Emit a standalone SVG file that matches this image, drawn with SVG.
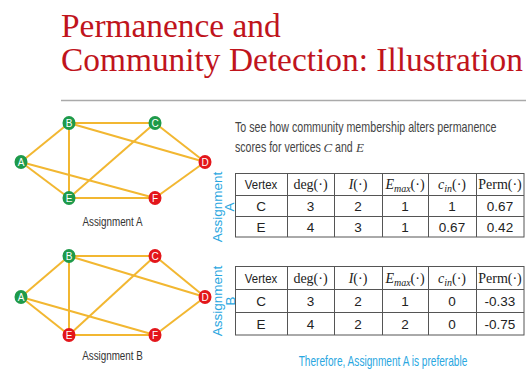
<svg xmlns="http://www.w3.org/2000/svg" width="526" height="372" viewBox="0 0 526 372">
  <style>
    .title { font-family: "Liberation Serif", "Times New Roman", serif; font-size: 33.4px; fill: #C0141C; }
    .edge { stroke: #F2B731; stroke-width: 2; fill: none; }
    .green { fill: #1E9A4A; }
    .red { fill: #E3161B; }
    .nlabel { font-family: "Liberation Sans", Arial, sans-serif; font-size: 10px; fill: #ffffff; text-anchor: middle; }
    .caption { font-family: "Liberation Sans", Arial, sans-serif; font-size: 13.5px; fill: #333333; text-anchor: middle; }
    .body { font-family: "Liberation Sans", Arial, sans-serif; font-size: 14px; fill: #444444; }
    .it { font-family: "Liberation Serif", "Times New Roman", serif; font-style: italic; font-size: 13px; fill: #444444; }
    .blue { font-family: "Liberation Sans", Arial, sans-serif; font-size: 14px; fill: #2AA7DF; }
    .side { font-family: "Liberation Sans", Arial, sans-serif; font-size: 13.5px; fill: #2AA7DF; text-anchor: middle; }
    .cell { font-family: "Liberation Sans", Arial, sans-serif; font-size: 13.5px; fill: #222222; text-anchor: middle; }
    .math { font-family: "Liberation Serif", "Times New Roman", serif; font-size: 14px; fill: #222222; text-anchor: middle; }
    .grid { stroke: #555555; stroke-width: 1; fill: none; }
  </style>

  <!-- heading -->
  <text class="title" x="61" y="37">Permanence and</text>
  <text class="title" x="61" y="71">Community Detection: Illustration</text>
  <line x1="61" y1="100.5" x2="526" y2="100.5" stroke="#AAAAAA" stroke-width="1.5"/>

  <!-- connectors of both graphs -->
  <g id="connectors">
    <g id="edges-a">
      <line class="edge" x1="21" y1="162" x2="69" y2="123"/>
      <line class="edge" x1="21" y1="162" x2="69" y2="198"/>
      <line class="edge" x1="21" y1="162" x2="155" y2="198"/>
      <line class="edge" x1="69" y1="123" x2="155" y2="123"/>
      <line class="edge" x1="69" y1="123" x2="69" y2="198"/>
      <line class="edge" x1="69" y1="123" x2="205" y2="162"/>
      <line class="edge" x1="155" y1="123" x2="69" y2="198"/>
      <line class="edge" x1="155" y1="123" x2="205" y2="162"/>
      <line class="edge" x1="205" y1="162" x2="155" y2="198"/>
      <line class="edge" x1="69" y1="198" x2="155" y2="198"/>
    </g>
    <g id="edges-b">
      <line class="edge" x1="21" y1="297" x2="69" y2="256"/>
      <line class="edge" x1="21" y1="297" x2="69" y2="335"/>
      <line class="edge" x1="21" y1="297" x2="155" y2="335"/>
      <line class="edge" x1="69" y1="256" x2="155" y2="256"/>
      <line class="edge" x1="69" y1="256" x2="69" y2="335"/>
      <line class="edge" x1="69" y1="256" x2="205" y2="297"/>
      <line class="edge" x1="155" y1="256" x2="69" y2="335"/>
      <line class="edge" x1="155" y1="256" x2="205" y2="297"/>
      <line class="edge" x1="205" y1="297" x2="155" y2="335"/>
      <line class="edge" x1="69" y1="335" x2="155" y2="335"/>
    </g>
  </g>

  <!-- graph under assignment A -->
  <g id="nodeA-A"><ellipse class="green" cx="21" cy="162" rx="6.5" ry="7"/><text class="nlabel" x="21" y="165.6">A</text></g>
  <g id="nodeA-B"><ellipse class="green" cx="69" cy="123" rx="6.5" ry="7"/><text class="nlabel" x="69" y="126.6">B</text></g>
  <g id="nodeA-C"><ellipse class="green" cx="155" cy="123" rx="6.5" ry="7"/><text class="nlabel" x="155" y="126.6">C</text></g>
  <g id="nodeA-D"><ellipse class="red" cx="205" cy="162" rx="6.5" ry="7"/><text class="nlabel" x="205" y="165.6">D</text></g>
  <g id="nodeA-E"><ellipse class="green" cx="69" cy="198" rx="6.5" ry="7"/><text class="nlabel" x="69" y="201.6">E</text></g>
  <g id="nodeA-F"><ellipse class="red" cx="155" cy="198" rx="6.5" ry="7"/><text class="nlabel" x="155" y="201.6">F</text></g>
  <text class="caption" transform="translate(112.5,225.7) scale(0.73,1)">Assignment A</text>

  <!-- graph under assignment B -->
  <g id="nodeB-A"><ellipse class="green" cx="21" cy="297" rx="6.5" ry="7"/><text class="nlabel" x="21" y="300.6">A</text></g>
  <g id="nodeB-B"><ellipse class="green" cx="69" cy="256" rx="6.5" ry="7"/><text class="nlabel" x="69" y="259.6">B</text></g>
  <g id="nodeB-C"><ellipse class="red" cx="155" cy="256" rx="6.5" ry="7"/><text class="nlabel" x="155" y="259.6">C</text></g>
  <g id="nodeB-D"><ellipse class="red" cx="205" cy="297" rx="6.5" ry="7"/><text class="nlabel" x="205" y="300.6">D</text></g>
  <g id="nodeB-E"><ellipse class="red" cx="69" cy="335" rx="6.5" ry="7"/><text class="nlabel" x="69" y="338.6">E</text></g>
  <g id="nodeB-F"><ellipse class="red" cx="155" cy="335" rx="6.5" ry="7"/><text class="nlabel" x="155" y="338.6">F</text></g>
  <text class="caption" transform="translate(112.5,360) scale(0.73,1)">Assignment B</text>

  <!-- explanation -->
  <text class="body" transform="translate(235,132.3) scale(0.763,1)">To  see how community membership alters permanence</text>
  <text class="body" transform="translate(235,152.3) scale(0.757,1)">scores for vertices</text>
  <text class="it" x="323.5" y="152.3">C</text>
  <text class="body" transform="translate(335,152.3) scale(0.757,1)">and</text>
  <text class="it" x="356" y="152.3">E</text>

  <!-- side labels -->
  <text class="side" transform="translate(221.5,207) rotate(-90)">Assignment</text>
  <text class="side" transform="translate(234,207) rotate(-90)">A</text>
  <text class="side" transform="translate(221.5,301) rotate(-90)">Assignment</text>
  <text class="side" transform="translate(235,301) rotate(-90)">B</text>

  <!-- table for assignment A -->
  <g id="table-a">
    <rect class="grid" x="235.5" y="173.5" width="288.5" height="63.5"/>
    <line class="grid" x1="235.5" y1="195.5" x2="524" y2="195.5"/>
    <line class="grid" x1="235.5" y1="216.5" x2="524" y2="216.5"/>
    <line class="grid" x1="287.5" y1="173.5" x2="287.5" y2="237"/>
    <line class="grid" x1="334.5" y1="173.5" x2="334.5" y2="237"/>
    <line class="grid" x1="382.5" y1="173.5" x2="382.5" y2="237"/>
    <line class="grid" x1="428.5" y1="173.5" x2="428.5" y2="237"/>
    <line class="grid" x1="476.5" y1="173.5" x2="476.5" y2="237"/>
    <text class="cell" transform="translate(261,189) scale(0.846,1)">Vertex</text>
    <text class="math" x="310.5" y="189">deg(·)</text>
    <text class="math" x="358" y="189"><tspan font-style="italic">I</tspan>(·)</text>
    <text class="math" x="405" y="189"><tspan font-style="italic">E</tspan><tspan font-style="italic" font-size="10" dy="3">max</tspan><tspan dy="-3">(·)</tspan></text>
    <text class="math" x="452" y="189"><tspan font-style="italic">c</tspan><tspan font-style="italic" font-size="10" dy="3">in</tspan><tspan dy="-3">(·)</tspan></text>
    <text class="math" x="500" y="189">Perm(·)</text>
    <text class="cell" x="261" y="210.5">C</text>
    <text class="cell" x="310.5" y="210.5">3</text>
    <text class="cell" x="358" y="210.5">2</text>
    <text class="cell" x="405" y="210.5">1</text>
    <text class="cell" x="452" y="210.5">1</text>
    <text class="cell" x="500" y="210.5">0.67</text>
    <text class="cell" x="261" y="231.5">E</text>
    <text class="cell" x="310.5" y="231.5">4</text>
    <text class="cell" x="358" y="231.5">3</text>
    <text class="cell" x="405" y="231.5">1</text>
    <text class="cell" x="452" y="231.5">0.67</text>
    <text class="cell" x="500" y="231.5">0.42</text>
  </g>

  <!-- table for assignment B -->
  <g id="table-b">
    <rect class="grid" x="235.5" y="266.5" width="288.5" height="68.5"/>
    <line class="grid" x1="235.5" y1="289.5" x2="524" y2="289.5"/>
    <line class="grid" x1="235.5" y1="312.5" x2="524" y2="312.5"/>
    <line class="grid" x1="287.5" y1="266.5" x2="287.5" y2="335"/>
    <line class="grid" x1="334.5" y1="266.5" x2="334.5" y2="335"/>
    <line class="grid" x1="382.5" y1="266.5" x2="382.5" y2="335"/>
    <line class="grid" x1="428.5" y1="266.5" x2="428.5" y2="335"/>
    <line class="grid" x1="476.5" y1="266.5" x2="476.5" y2="335"/>
    <text class="cell" transform="translate(261,282.5) scale(0.846,1)">Vertex</text>
    <text class="math" x="310.5" y="282.5">deg(·)</text>
    <text class="math" x="358" y="282.5"><tspan font-style="italic">I</tspan>(·)</text>
    <text class="math" x="405" y="282.5"><tspan font-style="italic">E</tspan><tspan font-style="italic" font-size="10" dy="3">max</tspan><tspan dy="-3">(·)</tspan></text>
    <text class="math" x="452" y="282.5"><tspan font-style="italic">c</tspan><tspan font-style="italic" font-size="10" dy="3">in</tspan><tspan dy="-3">(·)</tspan></text>
    <text class="math" x="500" y="282.5">Perm(·)</text>
    <text class="cell" x="261" y="305.5">C</text>
    <text class="cell" x="310.5" y="305.5">3</text>
    <text class="cell" x="358" y="305.5">2</text>
    <text class="cell" x="405" y="305.5">1</text>
    <text class="cell" x="452" y="305.5">0</text>
    <text class="cell" x="500" y="305.5">-0.33</text>
    <text class="cell" x="261" y="328.5">E</text>
    <text class="cell" x="310.5" y="328.5">4</text>
    <text class="cell" x="358" y="328.5">2</text>
    <text class="cell" x="405" y="328.5">2</text>
    <text class="cell" x="452" y="328.5">0</text>
    <text class="cell" x="500" y="328.5">-0.75</text>
  </g>

  <!-- conclusion -->
  <text class="blue" text-anchor="middle" transform="translate(383,366) scale(0.723,1)">Therefore, Assignment A is preferable</text>
</svg>
